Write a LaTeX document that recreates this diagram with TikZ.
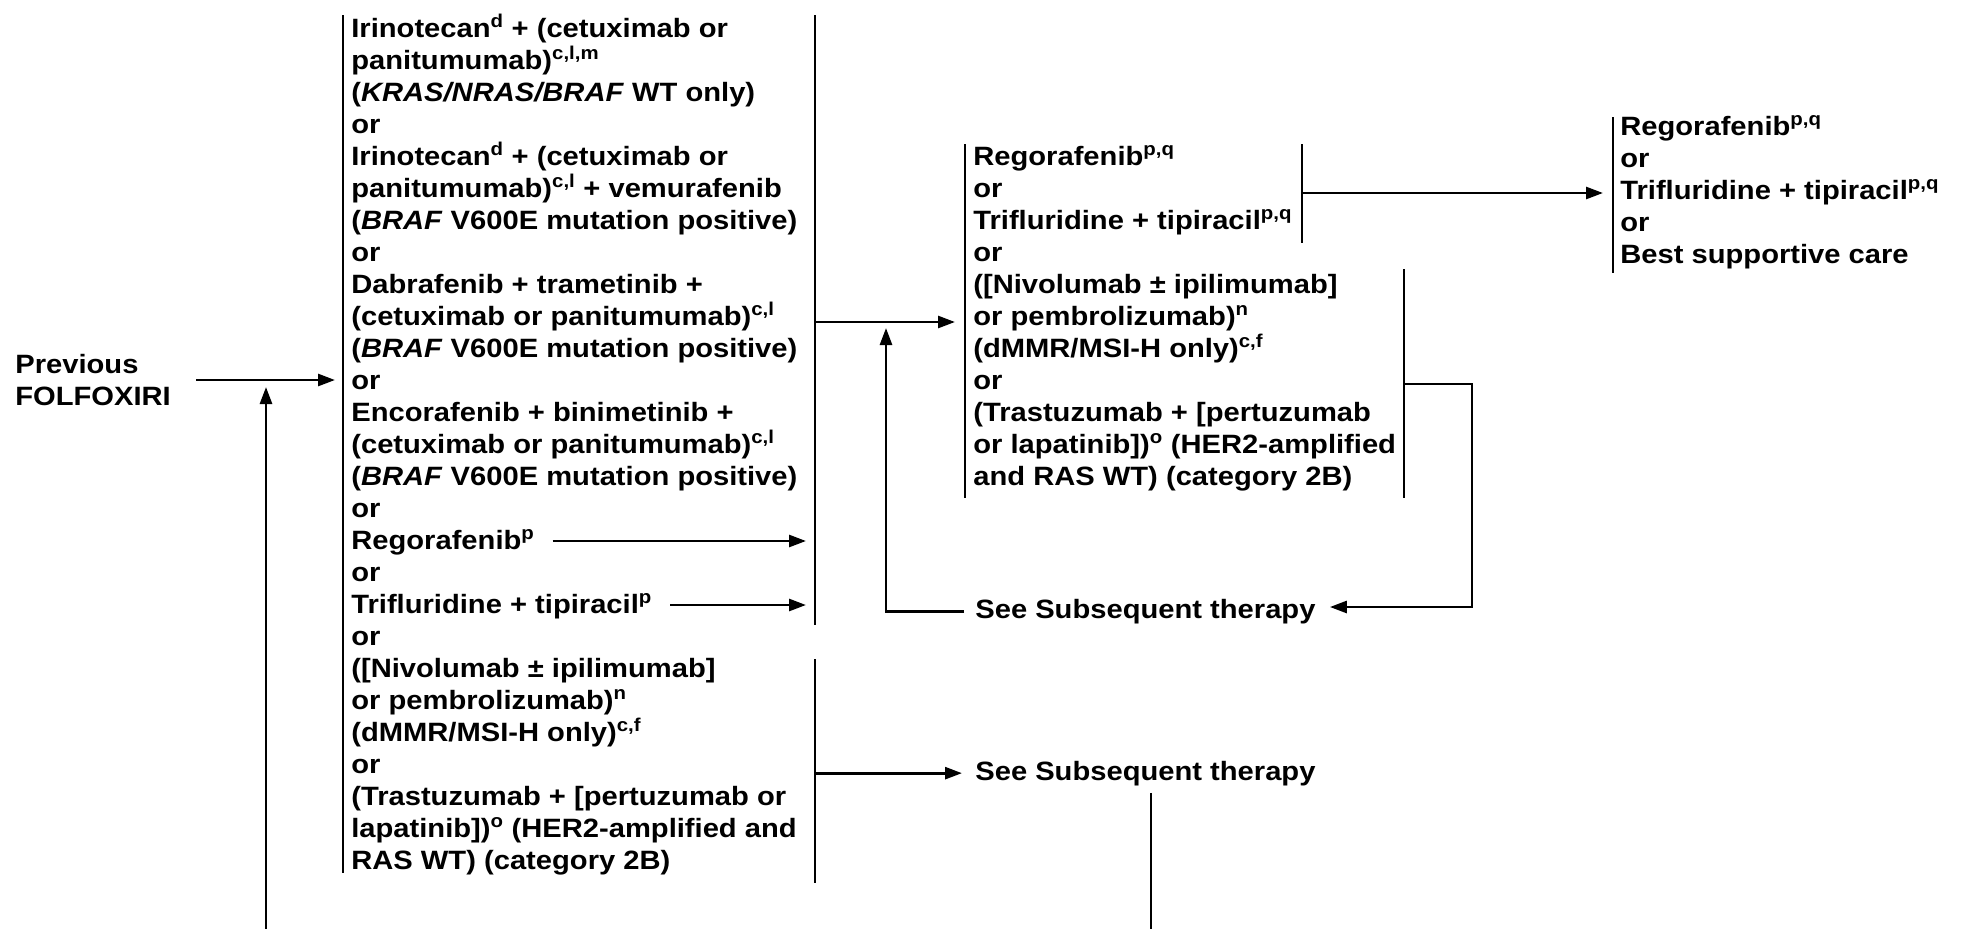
\documentclass[tikz,border=0pt]{standalone}
\usepackage{fontspec}
\setmainfont{Liberation Sans}[FakeStretch=1.1]
\usetikzlibrary{arrows.meta}
\begin{document}
\begin{tikzpicture}[x=1pt,y=-1pt, line width=2.7pt,
  >={Triangle[length=17pt,width=12pt]},
  txt/.style={inner sep=0pt, anchor=base west, font=\fontsize{26.5}{32}\selectfont\bfseries}]
\useasboundingbox (0,0) rectangle (1963,929);

% ---------- left column ----------
\foreach \t [count=\i] in {
 {Irinotecan\textsuperscript{d} + (cetuximab or},
 {panitumumab)\textsuperscript{c,l,m}},
 {(\textit{KRAS/NRAS/BRAF} WT only)},
 {or},
 {Irinotecan\textsuperscript{d} + (cetuximab or},
 {panitumumab)\textsuperscript{c,l} + vemurafenib},
 {(\textit{BRAF} V600E mutation positive)},
 {or},
 {Dabrafenib + trametinib +},
 {(cetuximab or panitumumab)\textsuperscript{c,l}},
 {(\textit{BRAF} V600E mutation positive)},
 {or},
 {Encorafenib + binimetinib +},
 {(cetuximab or panitumumab)\textsuperscript{c,l}},
 {(\textit{BRAF} V600E mutation positive)},
 {or},
 {Regorafenib\textsuperscript{p}},
 {or},
 {Trifluridine + tipiracil\textsuperscript{p}},
 {or},
 {([Nivolumab ± ipilimumab]},
 {or pembrolizumab)\textsuperscript{n}},
 {(dMMR/MSI-H only)\textsuperscript{c,f}},
 {or},
 {(Trastuzumab + [pertuzumab or},
 {lapatinib])\textsuperscript{o} (HER2-amplified and},
 {RAS WT) (category 2B)}}
 \node[txt] (L\i) at (350,{37+(\i-1)*32}) {\t};

% ---------- middle column ----------
\foreach \t [count=\i] in {
 {Regorafenib\textsuperscript{p,q}},
 {or},
 {Trifluridine + tipiracil\textsuperscript{p,q}},
 {or},
 {([Nivolumab ± ipilimumab]},
 {or pembrolizumab)\textsuperscript{n}},
 {(dMMR/MSI-H only)\textsuperscript{c,f}},
 {or},
 {(Trastuzumab + [pertuzumab},
 {or lapatinib])\textsuperscript{o} (HER2-amplified},
 {and RAS WT) (category 2B)}}
 \node[txt] (M\i) at (972,{165+(\i-1)*32}) {\t};

% ---------- right column ----------
\foreach \t [count=\i] in {
 {Regorafenib\textsuperscript{p,q}},
 {or},
 {Trifluridine + tipiracil\textsuperscript{p,q}},
 {or},
 {Best supportive care}}
 \node[txt] (R\i) at (1619,{135+(\i-1)*32}) {\t};

% ---------- other texts ----------
\node[txt, anchor=west, align=left] (prev) at (14,380) {Previous\\FOLFOXIRI};
\node[txt] (S1) at (974,618) {See Subsequent therapy};
\node[txt] (S2) at (974,780) {See Subsequent therapy};

% ---------- bars ----------
\draw (343,15) -- (343,873);
\draw (815,15) -- (815,625);
\draw (815,659) -- (815,883);
\draw (965,144) -- (965,498);
\draw (1302,144) -- (1302,243);
\draw (1404,269) -- (1404,498);
\draw (1613,117) -- (1613,273);

% ---------- coordinates ----------
\coordinate (lbin) at (335,380);
\coordinate (tgout) at (815,322);
\coordinate (mbin) at (955,322);
\coordinate (tgx) at (806,0);
\coordinate (mtout) at (1302,193);
\coordinate (rbin) at (1603,193);
\coordinate (mlout) at (1404,384);
\coordinate (mlturn) at (1472,607);
\coordinate (lgx) at (815,0);
\coordinate (upfoot) at (266,929);
\coordinate (uptip) at (266,387);
\coordinate (up2tip) at (886,328);
\coordinate (sv) at (1151,929);

% ---------- connectors ----------
\draw[->] ([xshift=24pt]prev.east) -- (lbin);
\draw[->] (upfoot) -- (uptip);
\draw[->] (tgout) -- (mbin);
\path ([xshift=17pt,yshift=8pt]L17.base east) coordinate (r1s);
\draw[->] (r1s) -- (r1s -| tgx);
\path ([xshift=17pt,yshift=8pt]L19.base east) coordinate (r2s);
\draw[->] (r2s) -- (r2s -| tgx);
\draw[->] (mtout) -- (rbin);
\draw[->] (mlout) -| (mlturn) -- ([xshift=13pt]S1.east |- mlturn);
\draw[->] ([xshift=-10pt]S1.west) -| (up2tip);
\draw[->] (S2.west -| lgx) -- ([xshift=-12pt]S2.west);
\path (sv |- S2.south) ++(0,6) coordinate (svt);
\draw (svt) -- (sv);
\end{tikzpicture}
\end{document}
